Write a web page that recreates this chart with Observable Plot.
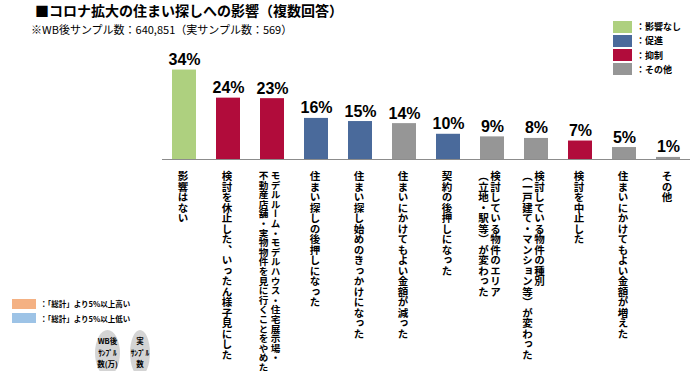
<!DOCTYPE html>
<html><head><meta charset="utf-8">
<script src="https://cdn.jsdelivr.net/npm/d3@7"></script>
<script src="https://cdn.jsdelivr.net/npm/@observablehq/plot@0.6"></script>
<style>
body{margin:0;background:#fff;}
#wrap{position:relative;width:700px;height:371px;overflow:hidden;font-family:"Noto Sans CJK JP",sans-serif;}
#chart{position:absolute;left:0;top:0;}
.abs{position:absolute;white-space:nowrap;line-height:1;}
#title{left:35px;top:3px;font-weight:bold;font-size:14px;color:#000;}
#subtitle{left:31px;top:24px;font-size:11px;color:#000;}
.leg{position:absolute;display:flex;align-items:center;font-size:9px;font-weight:bold;}
.leg .sw{width:19px;height:12px;margin-right:4px;}
.bl{position:absolute;display:flex;align-items:center;font-size:7.5px;font-weight:bold;}
.bl .sw{width:24px;height:10px;margin-right:4px;}
.ell{position:absolute;background:#d4d4d4;border-radius:50%;text-align:center;font-size:7.5px;font-weight:bold;line-height:11.5px;padding-top:5px;box-sizing:border-box;}
</style>
</head><body>
<div id="wrap">
  <div id="chart"></div>
  <div id="title" class="abs">■コロナ拡大の住まい探しへの影響（複数回答）</div>
  <div id="subtitle" class="abs">※WB後サンプル数：640,851（実サンプル数：569）</div>
  <div id="legend"></div>
  <div id="legend2"></div>
</div>
<script>
const categories = [
  "影響はない",
  "検討を休止した、いったん様子見にした",
  "モデルルーム・モデルハウス・住宅展示場・\n不動産店舗・実物物件を見に行くことをやめた",
  "住まい探しの後押しになった",
  "住まい探し始めのきっかけになった",
  "住まいにかけてもよい金額が減った",
  "契約の後押しになった",
  "検討している物件のエリア\n（立地・駅等）が変わった",
  "検討している物件の種別\n（一戸建て・マンション等）が変わった",
  "検討を中止した",
  "住まいにかけてもよい金額が増えた",
  "その他"
];
const values = [34.4, 23.6, 23.4, 15.8, 14.6, 13.8, 9.7, 8.7, 8.1, 7.1, 4.6, 0.8];
const valueLabels = ["34%","24%","23%","16%","15%","14%","10%","9%","8%","7%","5%","1%"];
const types = ["影響なし","抑制","抑制","促進","促進","その他","促進","その他","その他","抑制","その他","その他"];
const typeNames = ["影響なし","促進","抑制","その他"];
const typeColors = ["#aed07f","#4a6a9b","#b10c3b","#969696"];
const noteLabels = ["：「総計」より5%以上高い","：「総計」より5%以上低い"];
const noteColors = ["#f4b183","#9dc3e6"];
const ellipseTexts = [["WB後","ｻﾝﾌﾟﾙ","数(万)"],["実","ｻﾝﾌﾟﾙ","数"]];

const data = categories.map((c,i)=>({cat:c, value:values[i], label:valueLabels[i], type:types[i]}));
const lines = categories.flatMap(c=>{
  const parts = c.split("\n");
  return parts.map((t,j)=>({cat:c, text:t, n:parts.length, j}));
});

const XFONT = "Noto Sans CJK JP";
const chart = Plot.plot({
  width:700, height:371,
  marginLeft:162, marginRight:10, marginTop:55, marginBottom:212,
  x:{domain:categories, paddingInner:20/44, paddingOuter:10/44, axis:null},
  y:{domain:[0,40], axis:null},
  color:{domain:typeNames, range:typeColors},
  style:{background:"transparent", overflow:"visible"},
  marks:[
    Plot.barY(data,{x:"cat", y:"value", fill:"type"}),
    Plot.ruleY([0],{stroke:"#8c8c8c", strokeWidth:1.2}),
    Plot.text(data,{x:"cat", y:"value", text:"label", lineAnchor:"bottom", dy:-5,
      fontSize:16, fontWeight:"bold", fill:"#000", fontFamily:"Liberation Sans, Arial, sans-serif"}),
    Plot.text(lines.filter(d=>d.n===1),{x:"cat", y:0, text:"text", textAnchor:"start", dx:-1.5, dy:8,
      fontSize:10.5, fontWeight:"bold", fill:"#000", fontFamily:XFONT}),
    Plot.text(lines.filter(d=>d.n===2 && d.j===0),{x:"cat", y:0, text:"text", textAnchor:"start", dx:3, dy:8,
      fontSize:10.5, fontWeight:"bold", fill:"#000", fontFamily:XFONT}),
    Plot.text(lines.filter(d=>d.n===2 && d.j===1),{x:"cat", y:0, text:"text", textAnchor:"start", dx:-9, dy:8,
      fontSize:10.5, fontWeight:"bold", fill:"#000", fontFamily:XFONT})
  ]
});
chart.querySelectorAll(`g[font-family="${XFONT}"] text`).forEach(t=>{
  t.setAttribute("writing-mode","vertical-rl");
  t.style.writingMode = "vertical-rl";
  if (t.textContent.length >= 20) t.style.fontSize = "9.6px";
});
document.getElementById("chart").appendChild(chart);

// top-right legend
const legend = document.getElementById("legend");
typeNames.forEach((n,i)=>{
  const d = document.createElement("div");
  d.className = "leg";
  d.style.left = "613px";
  d.style.top = (20 + i*14.3) + "px";
  d.innerHTML = `<span class="sw" style="background:${typeColors[i]}"></span><span>：${n}</span>`;
  legend.appendChild(d);
});
// bottom-left notes
const legend2 = document.getElementById("legend2");
noteLabels.forEach((n,i)=>{
  const d = document.createElement("div");
  d.className = "bl";
  d.style.left = "12px";
  d.style.top = (298 + i*14.5) + "px";
  d.innerHTML = `<span class="sw" style="background:${noteColors[i]}"></span><span>${n}</span>`;
  legend2.appendChild(d);
});
ellipseTexts.forEach((lns,i)=>{
  const e = document.createElement("div");
  e.className = "ell";
  e.style.left = (i===0 ? 95 : 130) + "px";
  e.style.top = "330px";
  e.style.width = (i===0 ? 25 : 20) + "px";
  e.style.height = "46px";
  e.innerHTML = lns.join("<br>");
  legend2.appendChild(e);
});
</script>
</body></html>
